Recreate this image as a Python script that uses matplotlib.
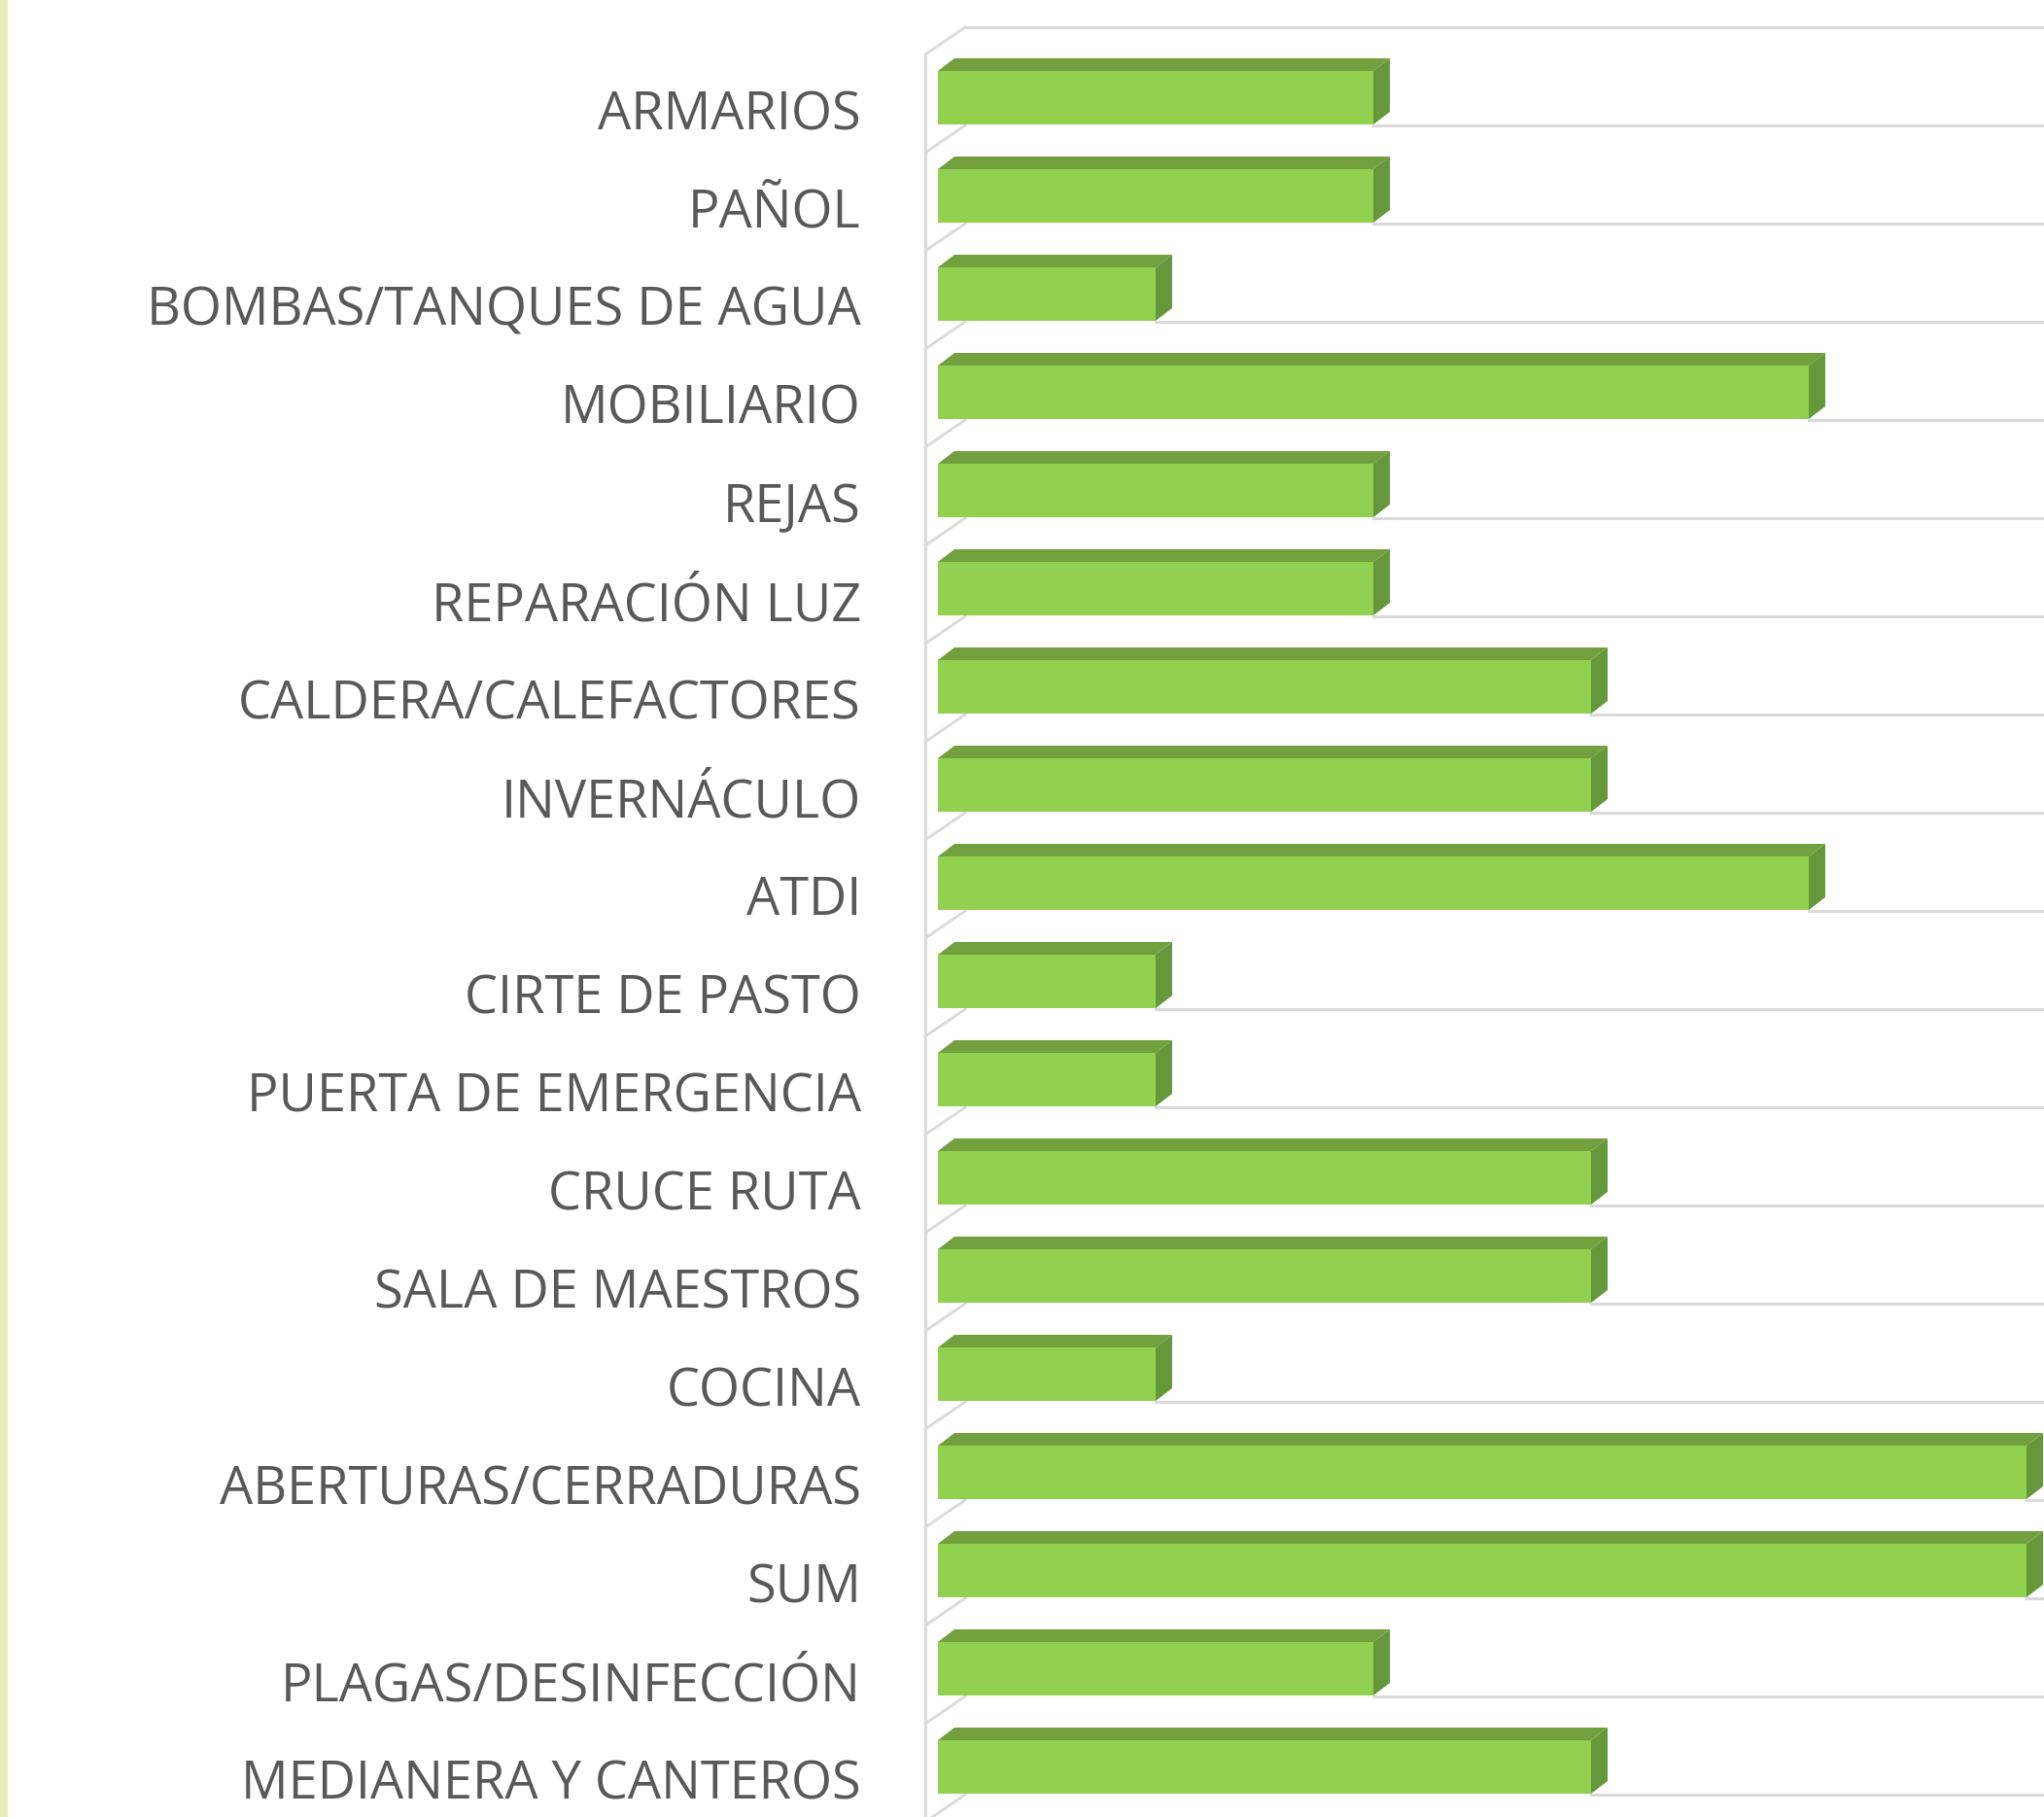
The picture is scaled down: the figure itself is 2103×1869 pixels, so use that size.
import numpy as np
import matplotlib.pyplot as plt
from matplotlib.patches import Polygon, Rectangle

categories = [
    "ARMARIOS", "PAÑOL", "BOMBAS/TANQUES DE AGUA", "MOBILIARIO", "REJAS",
    "REPARACIÓN LUZ", "CALDERA/CALEFACTORES", "INVERNÁCULO", "ATDI",
    "CIRTE DE PASTO", "PUERTA DE EMERGENCIA", "CRUCE RUTA", "SALA DE MAESTROS",
    "COCINA", "ABERTURAS/CERRADURAS", "SUM", "PLAGAS/DESINFECCIÓN",
    "MEDIANERA Y CANTEROS",
]
values = [2, 2, 1, 4, 2, 2, 3, 3, 4, 1, 1, 3, 3, 1, 5, 5, 2, 3]

FRONT = "#92D050"
TOP = "#72A03E"
SIDE = "#64983A"
GRID = "#D9D9D9"
TEXT = "#595959"

W, H = 2103, 1869
UNIT = 224.0    # pixels per value unit
PITCH = 101.0   # pixels per category row
X0 = 965.0      # pixel x of value 0
Y0 = 100.5      # pixel y of first bar centre


def px(p):
    return p / UNIT


def py(p):
    return p / PITCH


fig = plt.figure(figsize=(W / 100, H / 100), dpi=100)
ax = fig.add_axes([0, 0, 1, 1])
ax.set_xlim(px(-X0), px(W - X0))
ax.set_ylim(py(H - Y0), py(-Y0))
ax.axis("off")

fig.patches.append(Rectangle((0, 0), 7 / W, 1, transform=fig.transFigure,
                             color="#E9EDB6", zorder=0))

n = len(categories)
pos = np.arange(n)
bar_h = py(55)
ddx, ddy = px(17), py(13)
right = ax.get_xlim()[1]
wall_x = px(-13)
diag_x = px(28)

# wall and gridlines
ax.plot([wall_x, wall_x], [-1 + py(57), py(H)], color=GRID, lw=2.2, zorder=1,
        solid_capstyle="butt")
for k in range(-1, n):
    yg = k + py(129 - Y0)
    yw = k + py(157 - Y0)
    ax.plot([wall_x, diag_x], [yw, yg], color=GRID, lw=2.0, zorder=1)
    start = diag_x if k < 0 else values[k]
    ax.plot([start, right + 1], [yg, yg], color=GRID, lw=2.2, zorder=1)

# bars: front face plus top and side faces
ax.barh(pos, values, height=bar_h, left=0, color=FRONT, linewidth=0, zorder=3)
for i, v in enumerate(values):
    top = i - bar_h / 2
    bot = i + bar_h / 2
    ax.add_patch(Polygon([(0, top), (v, top), (v + ddx, top - ddy), (ddx, top - ddy)],
                         closed=True, facecolor=TOP, edgecolor="none", zorder=3))
    ax.add_patch(Polygon([(v, top), (v, bot), (v + ddx, bot - ddy), (v + ddx, top - ddy)],
                         closed=True, facecolor=SIDE, edgecolor="none", zorder=3))

# category labels
for i, cat in enumerate(categories):
    ax.text(px(886 - X0), i + py(133 - Y0), cat, ha="right", va="baseline",
            fontsize=39, color=TEXT, family="Open Sans")

fig.savefig("out.png", dpi=100)
